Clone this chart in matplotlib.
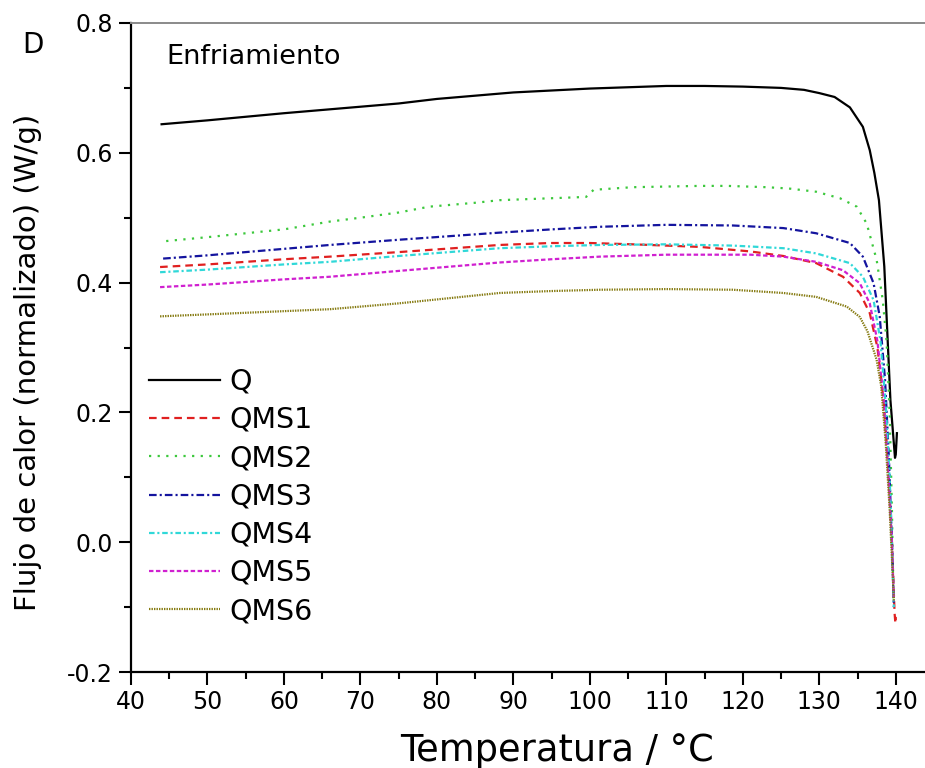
import matplotlib
matplotlib.use("Agg")
import matplotlib.pyplot as plt
from matplotlib.ticker import MultipleLocator, FuncFormatter

plt.rcParams["font.family"] = ["DejaVu Sans"]
plt.rcParams["lines.scale_dashes"] = False

# Temperature (°C) and normalized heat flow (W/g) for each sample, cooling run
q_x = [44, 50, 60, 70, 75, 80, 90, 100, 110, 115, 120, 125, 128, 130, 132, 134,
       135.7, 136.6, 137.2, 137.8, 138.5, 139.3, 139.9, 140.0, 140.15]
q_y = [0.644, 0.650, 0.661, 0.671, 0.676, 0.683, 0.693, 0.699, 0.703, 0.703, 0.702,
       0.700, 0.697, 0.692, 0.686, 0.670, 0.640, 0.604, 0.569, 0.527, 0.425, 0.219,
       0.130, 0.135, 0.168]

qms1_x = [43.8, 50, 60, 66, 75, 88.2, 94.8, 100, 105.6, 114.4, 121, 125.3, 129.6,
          133.1, 135.3, 136.6, 137.6, 138.4, 139.0, 139.5, 139.85, 139.95, 140.0]
qms1_y = [0.424, 0.428, 0.436, 0.440, 0.447, 0.458, 0.461, 0.461, 0.459, 0.455, 0.448,
          0.441, 0.430, 0.409, 0.384, 0.353, 0.300, 0.220, 0.120, 0.000, -0.110,
          -0.125, -0.115]

qms2_x = [44.6, 50, 60, 66, 70, 75, 79, 85, 88.2, 95, 99.5, 100.5, 105.6, 110, 114.4,
          118, 123.1, 126, 129.6, 132.7, 134.9, 136.2, 137.5, 138.3, 138.8, 139.2,
          139.5, 139.7]
qms2_y = [0.464, 0.470, 0.482, 0.494, 0.500, 0.508, 0.517, 0.523, 0.527, 0.530, 0.532,
          0.543, 0.547, 0.548, 0.549, 0.549, 0.547, 0.545, 0.540, 0.530, 0.517, 0.491,
          0.435, 0.373, 0.310, 0.200, 0.050, -0.090]

qms3_x = [44.2, 50, 60, 66, 75, 88.2, 95, 101.3, 110, 118.7, 125.3, 129.6, 134,
          135.7, 137.1, 137.9, 138.6, 139.1, 139.5, 139.75]
qms3_y = [0.437, 0.442, 0.452, 0.458, 0.466, 0.477, 0.482, 0.486, 0.489, 0.488, 0.484,
          0.476, 0.461, 0.440, 0.399, 0.348, 0.250, 0.130, 0.000, -0.100]

qms4_x = [43.8, 50, 60, 66, 75, 88.2, 95, 101.3, 110, 118.7, 125.3, 129.6, 134,
          135.7, 137.1, 138.0, 138.7, 139.2, 139.55, 139.75]
qms4_y = [0.416, 0.420, 0.428, 0.432, 0.441, 0.453, 0.456, 0.458, 0.459, 0.457, 0.453,
          0.445, 0.430, 0.409, 0.373, 0.310, 0.210, 0.100, -0.020, -0.100]

qms5_x = [43.8, 50, 60, 66, 75, 88.2, 95, 101.3, 110, 121, 125.3, 129.6, 133.1,
          135.3, 136.6, 137.6, 138.4, 139.0, 139.5, 139.75]
qms5_y = [0.393, 0.397, 0.405, 0.409, 0.418, 0.431, 0.436, 0.440, 0.443, 0.443, 0.440,
          0.432, 0.419, 0.399, 0.368, 0.310, 0.220, 0.110, 0.000, -0.090]

qms6_x = [43.8, 50, 60, 66, 75, 88.2, 95, 101.3, 110, 118.7, 125.3, 129.6, 133.6,
          135.3, 136.3, 137.5, 138.1, 138.7, 139.2, 139.6, 139.75]
qms6_y = [0.348, 0.351, 0.356, 0.359, 0.368, 0.384, 0.387, 0.389, 0.390, 0.389, 0.384,
          0.378, 0.363, 0.347, 0.325, 0.281, 0.240, 0.150, 0.050, -0.050, -0.090]

labels = ["Q", "QMS1", "QMS2", "QMS3", "QMS4", "QMS5", "QMS6"]

series = [
    (q_x, q_y, "#000000", "-"),
    (qms1_x, qms1_y, "#e02020", (0, (5.5, 3.6))),
    (qms2_x, qms2_y, "#3cc83c", (0, (1.6, 4.6))),
    (qms3_x, qms3_y, "#14149e", (0, (5.5, 2.2, 1.5, 2.2))),
    (qms4_x, qms4_y, "#30d8d8", (0, (4.0, 2.0, 1.5, 2.0))),
    (qms5_x, qms5_y, "#d020d0", (0, (3.2, 1.8))),
    (qms6_x, qms6_y, "#857a10", (0, (1.0, 0.8))),
]

fig = plt.figure(figsize=(9.25, 7.68), dpi=100)
ax = fig.add_axes([131 / 925, 96 / 768, 803 / 925, 649 / 768])

for (x, y, c, ls), lab in zip(series, labels):
    ax.plot(x, y, color=c, linestyle=ls, linewidth=1.6, label=lab)

ax.set_xlim(40, 145)
ax.set_ylim(-0.2, 0.8)
ax.xaxis.set_major_locator(MultipleLocator(10))
ax.xaxis.set_minor_locator(MultipleLocator(5))
ax.yaxis.set_major_locator(MultipleLocator(0.2))
ax.yaxis.set_minor_locator(MultipleLocator(0.1))
ax.yaxis.set_major_formatter(FuncFormatter(lambda v, p: f"{v:.1f}"))

ax.tick_params(which="major", direction="out", length=9, width=1.5,
               labelsize=17, pad=4, top=False, right=False)
ax.tick_params(which="minor", direction="out", length=5, width=1.5,
               top=False, right=False)

ax.spines["left"].set_linewidth(1.6)
ax.spines["bottom"].set_linewidth(1.6)
ax.spines["top"].set_color("#8a8a8a")
ax.spines["top"].set_linewidth(1.4)
ax.spines["right"].set_visible(False)

ax.set_xlabel("Temperatura / °C", fontsize=26.5)
ax.xaxis.set_label_coords(0.531, -0.093)
ax.set_ylabel("Flujo de calor (normalizado) (W/g)", fontsize=21)
ax.yaxis.set_label_coords(-0.111, 0.477)

ax.text(0.044, 0.968, "Enfriamiento", transform=ax.transAxes, fontsize=19.5,
        ha="left", va="top")
fig.text(22 / 925, 1 - 45 / 768, "D", fontsize=20, ha="left", va="center")

ax.legend(loc="upper left", bbox_to_anchor=(0.012, 0.482), frameon=False,
          fontsize=20.5, handlelength=2.5, handletextpad=0.3, labelspacing=0.36,
          borderaxespad=0.0, borderpad=0.3)

fig.savefig("out.png", dpi=100)
